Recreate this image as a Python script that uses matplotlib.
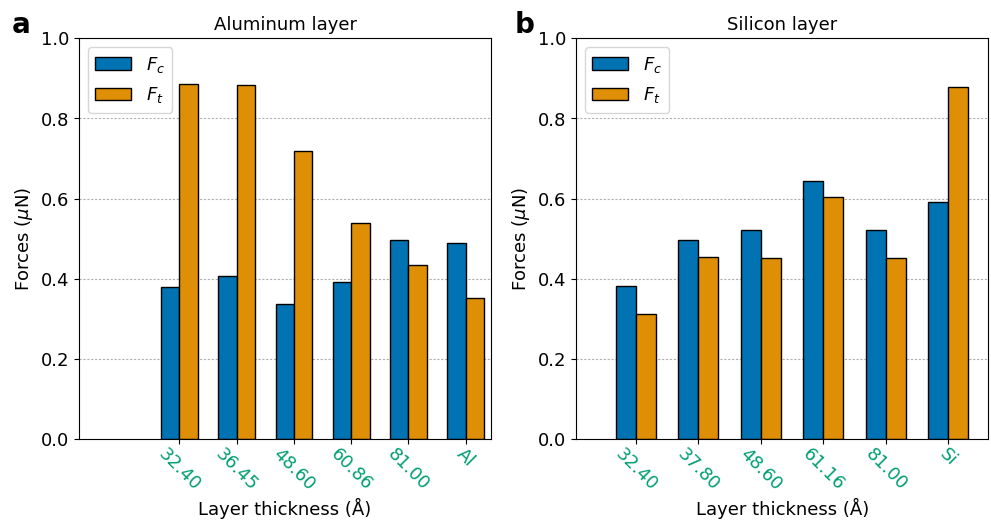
import matplotlib
matplotlib.use("Agg")
import matplotlib.pyplot as plt
import numpy as np

al_labels = ["32.40", "36.45", "48.60", "60.86", "81.00", "Al"]
al_fc = [0.380, 0.406, 0.338, 0.392, 0.498, 0.490]
al_ft = [0.885, 0.884, 0.718, 0.539, 0.434, 0.353]

si_labels = ["32.40", "37.80", "48.60", "61.16", "81.00", "Si"]
si_fc = [0.382, 0.496, 0.522, 0.644, 0.522, 0.592]
si_ft = [0.312, 0.455, 0.451, 0.605, 0.451, 0.878]

blue = "#0173B2"
orange = "#DE8F05"
green = "#029E73"

fig = plt.figure(figsize=(9.91, 5.22), dpi=100)
axa = fig.add_axes([79/991, 1-439.3/522, (491-79)/991, (439.3-38.3)/522])
axb = fig.add_axes([576/991, 1-439.3/522, (988.3-576)/991, (439.3-38.3)/522])

w = 0.32
fs = 13

def panel(ax, labels, fc, ft, title, xlim):
    x = np.arange(len(labels))
    ax.set_axisbelow(True)
    ax.yaxis.grid(True, linestyle=(0, (2, 1.5)), color="#b0b0b0", linewidth=0.8)
    ax.bar(x - w/2, fc, w, color=blue, edgecolor="black", linewidth=1, label="$F_c$")
    ax.bar(x + w/2, ft, w, color=orange, edgecolor="black", linewidth=1, label="$F_t$")
    ax.set_xticks(x)
    ax.set_xticklabels(labels, rotation=-45, ha="center", color=green, fontsize=fs)
    ax.tick_params(axis="x", pad=0.5)
    ax.set_ylim(0, 1.0)
    ax.set_yticks([0, 0.2, 0.4, 0.6, 0.8, 1.0])
    ax.set_yticklabels(["0.0", "0.2", "0.4", "0.6", "0.8", "1.0"], fontsize=fs)
    ax.set_xlim(*xlim)
    ax.set_title(title, fontsize=13, pad=6)
    ax.set_ylabel(r"Forces ($\mu$N)", fontsize=fs)
    ax.set_xlabel("Layer thickness (Å)", fontsize=fs, labelpad=3)
    ax.legend(loc="upper left", fontsize=fs, handlelength=2.0, labelspacing=0.6)

panel(axa, al_labels, al_fc, al_ft, "Aluminum layer", (-1.75, 5.44))
panel(axb, si_labels, si_fc, si_ft, "Silicon layer", (-0.96, 5.64))

fig.text(12/991, 1-33/522, "a", fontsize=20, fontweight="bold")
fig.text(515/991, 1-33/522, "b", fontsize=20, fontweight="bold")

fig.savefig("out.png", dpi=100)
